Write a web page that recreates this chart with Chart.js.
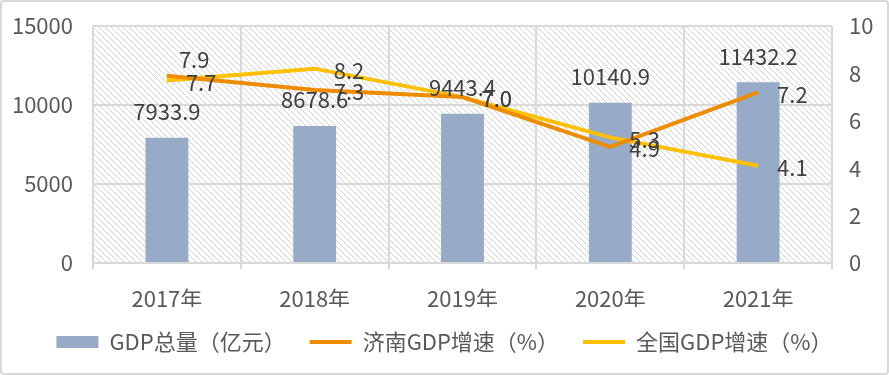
<!DOCTYPE html>
<html><head><meta charset="utf-8">
<script src="https://cdn.jsdelivr.net/npm/chart.js@4"></script>
<style>html,body{margin:0;padding:0;background:#fff}canvas{display:block}</style>
</head><body>
<canvas id="c" width="889" height="375"></canvas>
<script>
const categories = ['2017年', '2018年', '2019年', '2020年', '2021年'];
const gdpTotal = [7933.9, 8678.6, 9443.4, 10140.9, 11432.2];
const jinanGrowth = [7.9, 7.3, 7.0, 4.9, 7.2];
const nationalGrowth = [7.7, 8.2, 7.0, 5.3, 4.1];
const leftTicks = [0, 5000, 10000, 15000];
const rightTicks = [0, 2, 4, 6, 8, 10];
const seriesNames = ['GDP总量（亿元）', '济南GDP增速（%）', '全国GDP增速（%）'];

const FONT = "'Noto Sans CJK SC', 'Noto Sans', sans-serif";
const FS = 22;
const TXT = '#595959';
const GRID = '#D9D9D9';

function makeHatch(ctx) {
  const c = document.createElement('canvas');
  c.width = 6; c.height = 6;
  const g = c.getContext('2d');
  g.fillStyle = '#fff'; g.fillRect(0, 0, 6, 6);
  g.strokeStyle = '#D4D4D4'; g.lineWidth = 1;
  g.beginPath();
  g.moveTo(-1, -1); g.lineTo(7, 7);
  g.moveTo(-1, 5); g.lineTo(1, 7);
  g.moveTo(5, -1); g.lineTo(7, 1);
  g.stroke();
  return ctx.createPattern(c, 'repeat');
}

const bgPlugin = {
  id: 'bg',
  beforeDraw(chart) {
    const {ctx, chartArea: a} = chart;
    ctx.save();
    ctx.fillStyle = '#fff';
    ctx.fillRect(0, 0, chart.width, chart.height);
    ctx.fillStyle = makeHatch(ctx);
    ctx.fillRect(a.left, a.top, a.right - a.left, a.bottom - a.top);
    ctx.restore();
  },
  afterDraw(chart) {
    const ctx = chart.ctx;
    ctx.save();
    ctx.strokeStyle = GRID; ctx.lineWidth = 2;
    ctx.beginPath();
    ctx.roundRect(1, 1, chart.width - 2, chart.height - 2, 3);
    ctx.stroke();
    ctx.restore();
  }
};

const labelPlugin = {
  id: 'vlabels',
  afterDatasetsDraw(chart) {
    const ctx = chart.ctx;
    ctx.save();
    ctx.font = FS + 'px ' + FONT;
    ctx.fillStyle = '#404040';
    ctx.textBaseline = 'middle';
    const m0 = chart.getDatasetMeta(0);
    ctx.textAlign = 'center';
    m0.data.forEach((bar, i) => {
      ctx.fillText(chart.data.datasets[0].data[i].toFixed(1), bar.x, bar.y - 26);
    });
    ctx.textAlign = 'left';
    [1, 2].forEach(d => {
      const meta = chart.getDatasetMeta(d);
      meta.data.forEach((pt, i) => {
        const v = chart.data.datasets[d].data[i].toFixed(1);
        if (d === 1 && i === 0) {
          ctx.fillText(v, pt.x + 12, pt.y - 16);
        } else {
          ctx.fillText(v, pt.x + 19, pt.y + 2);
        }
      });
    });
    ctx.restore();
  }
};

function noVPad(s) { s.paddingTop = 0; s.paddingBottom = 0; }

new Chart(document.getElementById('c'), {
  data: {
    labels: categories,
    datasets: [
      {
        type: 'bar', label: seriesNames[0], data: gdpTotal, yAxisID: 'y',
        backgroundColor: '#97ABC8', borderWidth: 0,
        barPercentage: 0.29, categoryPercentage: 1, order: 3, pointStyle: 'rect'
      },
      {
        type: 'line', label: seriesNames[1], data: jinanGrowth, yAxisID: 'y1',
        borderColor: '#EE8C00', backgroundColor: '#EE8C00', borderWidth: 4,
        pointRadius: 0, tension: 0, order: 1, pointStyle: 'line'
      },
      {
        type: 'line', label: seriesNames[2], data: nationalGrowth, yAxisID: 'y1',
        borderColor: '#FFC000', backgroundColor: '#FFC000', borderWidth: 4,
        pointRadius: 0, tension: 0, order: 2, pointStyle: 'line'
      }
    ]
  },
  options: {
    responsive: false,
    animation: false,
    events: [],
    layout: { padding: { top: 26, bottom: 12, left: 0, right: 0 } },
    plugins: {
      tooltip: { enabled: false },
      legend: {
        position: 'bottom',
        labels: {
          usePointStyle: true, pointStyleWidth: 42, boxHeight: 12,
          padding: 24, color: TXT, font: { family: FONT, size: FS },
          sort: (a, b) => a.datasetIndex - b.datasetIndex
        }
      }
    },
    scales: {
      x: {
        grid: { offset: true, color: GRID, lineWidth: 2, drawTicks: true, tickLength: 6, tickColor: GRID },
        border: { color: GRID, width: 2 },
        ticks: { color: TXT, font: { family: FONT, size: FS }, padding: 16 },
        afterFit(s) { s.height = 44; }
      },
      y: {
        position: 'left', min: 0, max: 15000,
        afterBuildTicks(s) { s.ticks = leftTicks.map(v => ({ value: v })); },
        grid: { color: GRID, lineWidth: 2, drawTicks: false },
        border: { display: false },
        ticks: { color: TXT, font: { family: FONT, size: FS }, padding: 20, callback: v => String(v) },
        afterFit(s) { s.width = 93; noVPad(s); }
      },
      y1: {
        position: 'right', min: 0, max: 10,
        afterBuildTicks(s) { s.ticks = rightTicks.map(v => ({ value: v })); },
        grid: { display: false, drawTicks: false },
        border: { display: false },
        ticks: { color: TXT, font: { family: FONT, size: FS }, padding: 17, callback: v => String(v) },
        afterFit(s) { s.width = 57; noVPad(s); }
      }
    }
  },
  plugins: [bgPlugin, labelPlugin]
});
</script>
</body></html>
